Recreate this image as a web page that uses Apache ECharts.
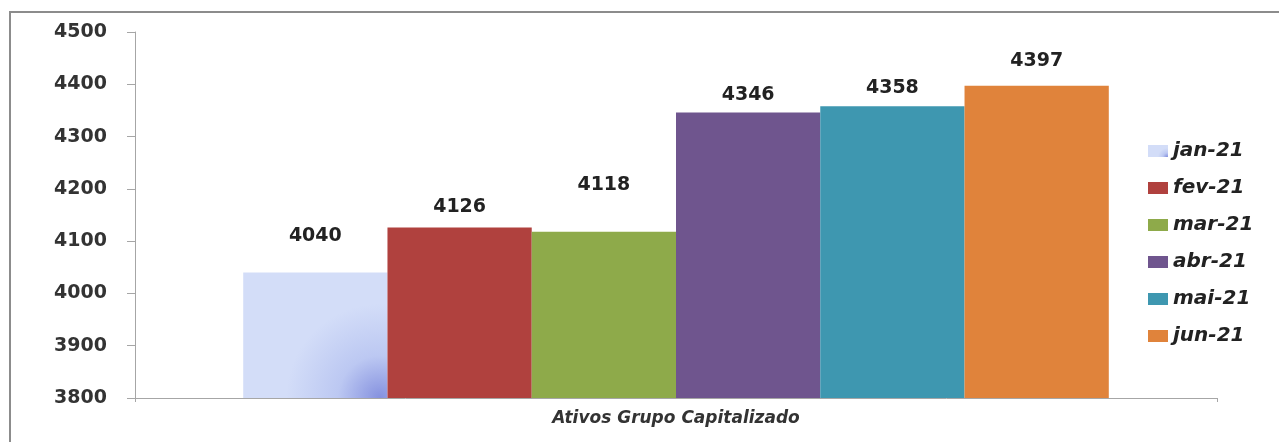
<!DOCTYPE html>
<html>
<head>
<meta charset="utf-8">
<script src="https://cdn.jsdelivr.net/npm/echarts@6/dist/echarts.min.js"></script>
<style>
  html, body { margin: 0; padding: 0; background: #fff; }
  #chart { width: 1279px; height: 442px; }
</style>
</head>
<body>
<div id="chart"></div>
<script>
// Monthly asset totals, one group with six monthly bars
const categories = ['Ativos Grupo Capitalizado'];
const months = ['jan-21', 'fev-21', 'mar-21', 'abr-21', 'mai-21', 'jun-21'];
const values = [4040, 4126, 4118, 4346, 4358, 4397];
const yTicks = { min: 3800, max: 4500, step: 100 };

// January bar: pale lavender with a blue glow in the lower-right corner
const janFill = new echarts.graphic.RadialGradient(0.95, 1, 0.75, [
  { offset: 0, color: '#8591df' },
  { offset: 0.45, color: '#bcc8f2' },
  { offset: 1, color: '#d3ddf8' }
]);
const colors = [janFill, '#b0413e', '#8eaa4a', '#6f558e', '#3e97b0', '#e0833b'];
const labelGaps = [27, 11, 37, 8, 9, 15];

const chart = echarts.init(document.getElementById('chart'), null, { renderer: 'canvas' });

const series = months.map((m, i) => ({
  name: m,
  type: 'bar',
  data: [values[i]],
  barGap: '0%',
  barCategoryGap: '20%',
  itemStyle: { color: colors[i] },
  label: {
    show: true,
    position: 'top',
    distance: labelGaps[i],
    fontFamily: 'DejaVu Sans',
    fontWeight: 'bold',
    fontSize: 19,
    color: '#222'
  }
}));

chart.setOption({
  animation: false,
  backgroundColor: '#fff',
  graphic: [{
    type: 'rect',
    shape: { x: 10, y: 12, width: 1400, height: 600 },
    style: { fill: 'none', stroke: '#8c8c8c', lineWidth: 2 },
    silent: true
  }],
  grid: { left: 135, right: 62, top: 32, bottom: 44, containLabel: false },
  legend: {
    orient: 'vertical',
    left: 1143,
    top: 136,
    itemWidth: 20,
    itemHeight: 12,
    itemGap: 17,
    icon: 'rect',
    data: months,
    textStyle: {
      fontFamily: 'DejaVu Sans',
      fontWeight: 'bold',
      fontStyle: 'italic',
      fontSize: 20,
      lineHeight: 20,
      color: '#222'
    }
  },
  xAxis: {
    type: 'category',
    data: categories,
    axisLine: { show: true, lineStyle: { color: '#a6a6a6', width: 1 } },
    axisTick: { show: true, length: 4, lineStyle: { color: '#a6a6a6' } },
    axisLabel: {
      margin: 12,
      fontFamily: 'DejaVu Sans',
      fontWeight: 'bold',
      fontStyle: 'italic',
      fontSize: 17,
      color: '#333'
    }
  },
  yAxis: {
    type: 'value',
    min: yTicks.min,
    max: yTicks.max,
    interval: yTicks.step,
    splitLine: { show: false },
    axisLine: { show: true, lineStyle: { color: '#a6a6a6', width: 1 } },
    axisTick: { show: true, length: 8, inside: false, lineStyle: { color: '#a6a6a6' } },
    axisLabel: {
      margin: 28,
      fontFamily: 'DejaVu Sans',
      fontWeight: 'bold',
      fontSize: 19,
      color: '#333',
      formatter: v => String(v)
    }
  },
  series: series
});
</script>
</body>
</html>
